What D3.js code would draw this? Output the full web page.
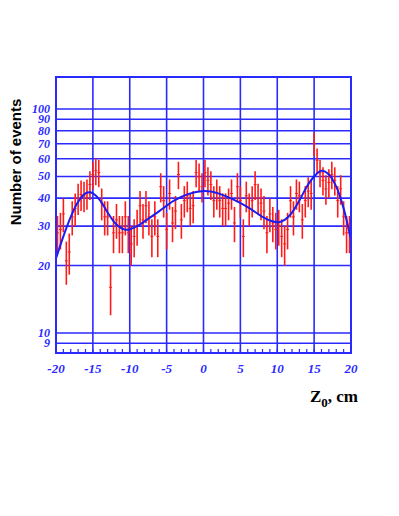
<!DOCTYPE html>
<html>
<head>
<meta charset="utf-8">
<script src="https://cdn.jsdelivr.net/npm/d3@7"></script>
<style>
  html, body { margin: 0; padding: 0; background: #fff; }
  svg { display: block; }
</style>
</head>
<body>
<svg id="chart" width="399" height="516"></svg>
<script>
// Z0 distribution: 100 bins of 0.4 cm from -20 to 20, Poisson errors,
// log y scale, smooth fit curve overlaid.

const BIN_WIDTH = 0.4;
const counts = [
    28, 29, 34, 21, 23, 33, 36, 40, 41.5, 41,
    42, 46, 51, 53, 52, 38, 33, 33, 16, 28,
    32, 28, 28, 33, 28, 25, 27, 30, 37, 32,
    37, 33, 27, 33, 27, 45, 39, 29, 42, 31,
    35, 51, 32, 39, 41, 36, 37, 52, 50, 45,
    52, 48, 46, 39, 42, 39, 36, 36, 38, 42,
    31, 45, 39, 27, 41, 36, 39, 46, 40, 38,
    35, 28, 34, 31, 29, 30, 27, 25, 29, 39,
    33, 42, 41, 32, 39, 43, 42, 70, 59, 52,
    48, 44, 47, 51, 48, 39, 44, 33, 28, 28
];

// fit curve
const fitZ = [-20, -19, -18, -17, -16, -15.5, -15, -14, -13, -12, -11, -10.3, -9, -8, -6, -4, -2, 0, 1, 2, 4, 6, 8, 9, 10.2, 11, 12, 13, 14, 15, 16, 17, 18, 19, 20];
const fitN = [21.5, 27, 33, 38.5, 42, 42.5, 42, 39, 34.5, 31, 29.2, 28.9, 30, 31.5, 35, 39, 41.8, 43, 42.8, 42, 39.5, 36.5, 33, 31.8, 31.2, 32, 34.5, 39, 45, 50, 53, 51, 45, 36, 26];

const xTicks = [-20, -15, -10, -5, 0, 5, 10, 15, 20];
const yTicks = [9, 10, 20, 30, 40, 50, 60, 70, 80, 90, 100];

const BLUE = '#2a2aff';
const RED = '#ff1a1a';

const m = { left: 56, right: 351, top: 77, bottom: 353 };
const svg = d3.select('#chart');

const x = d3.scaleLinear().domain([-20, 20]).range([m.left, m.right]);
const y = d3.scaleLog().domain([8.14, 139]).range([m.bottom, m.top]);

svg.append('clipPath').attr('id', 'plot-clip')
    .append('rect')
    .attr('x', m.left).attr('y', m.top)
    .attr('width', m.right - m.left).attr('height', m.bottom - m.top);

// grid
const grid = svg.append('g').attr('stroke', BLUE).attr('stroke-width', 1.6);
grid.selectAll('line.gx').data(xTicks.slice(1, -1)).join('line')
    .attr('x1', (d) => x(d)).attr('x2', (d) => x(d))
    .attr('y1', m.top).attr('y2', m.bottom);
grid.selectAll('line.gy').data(yTicks).join('line')
    .attr('x1', m.left).attr('x2', m.right)
    .attr('y1', (d) => y(d)).attr('y2', (d) => y(d));

// minor ticks along the bottom, 1 cm apart
svg.append('g').attr('stroke', BLUE).attr('stroke-width', 1.2)
    .selectAll('line').data(d3.range(-19, 20)).join('line')
    .attr('x1', (d) => x(d)).attr('x2', (d) => x(d))
    .attr('y1', m.bottom).attr('y2', m.bottom - 4);

// data with sqrt(N) error bars
const pts = counts.map((n, i) => ({ z: -20 + BIN_WIDTH * (i + 0.5), n }));
const data = svg.append('g').attr('clip-path', 'url(#plot-clip)').attr('stroke', RED);
data.selectAll('line.err').data(pts).join('line')
    .attr('stroke-width', 1.6)
    .attr('x1', (d) => x(d.z)).attr('x2', (d) => x(d.z))
    .attr('y1', (d) => y(d.n + Math.sqrt(d.n)))
    .attr('y2', (d) => y(Math.max(d.n - Math.sqrt(d.n), 1)));
data.selectAll('line.bin').data(pts).join('line')
    .attr('stroke-width', 1)
    .attr('x1', (d) => x(d.z - BIN_WIDTH / 2)).attr('x2', (d) => x(d.z + BIN_WIDTH / 2))
    .attr('y1', (d) => y(d.n)).attr('y2', (d) => y(d.n));

// fit curve
svg.append('path')
    .datum(fitZ.map((z, i) => [z, fitN[i]]))
    .attr('clip-path', 'url(#plot-clip)')
    .attr('fill', 'none').attr('stroke', '#1c1cf0').attr('stroke-width', 2)
    .attr('d', d3.line().curve(d3.curveCatmullRom).x((d) => x(d[0])).y((d) => y(d[1])));

// frame
svg.append('rect')
    .attr('x', m.left).attr('y', m.top)
    .attr('width', m.right - m.left).attr('height', m.bottom - m.top)
    .attr('fill', 'none').attr('stroke', BLUE).attr('stroke-width', 2);

// tick labels
const tickFont = '"Liberation Serif", "DejaVu Serif", serif';
svg.append('g').selectAll('text').data(yTicks).join('text')
    .attr('x', m.left - 6).attr('y', (d) => y(d) + 4)
    .attr('text-anchor', 'end')
    .attr('font-family', tickFont).attr('font-weight', 'bold').attr('font-style', 'italic')
    .attr('font-size', 12).attr('fill', BLUE)
    .text((d) => d);
svg.append('g').selectAll('text').data(xTicks).join('text')
    .attr('x', (d) => x(d)).attr('y', m.bottom + 20)
    .attr('text-anchor', 'middle')
    .attr('font-family', tickFont).attr('font-weight', 'bold').attr('font-style', 'italic')
    .attr('font-size', 13).attr('fill', BLUE)
    .text((d) => d);

// axis titles
svg.append('text')
    .attr('transform', 'translate(21,162) rotate(-90)')
    .attr('text-anchor', 'middle')
    .attr('font-family', '"Liberation Sans", Arial, sans-serif')
    .attr('font-weight', 'bold').attr('font-size', 15).attr('fill', '#000')
    .text('Number of events');

const xt = svg.append('text')
    .attr('x', 358).attr('y', 402)
    .attr('text-anchor', 'end')
    .attr('font-family', '"Liberation Serif", "Times New Roman", serif')
    .attr('font-weight', 'bold').attr('font-size', 17).attr('fill', '#000');
xt.append('tspan').text('Z');
xt.append('tspan').attr('font-size', 13).attr('dy', 5).text('0');
xt.append('tspan').attr('dy', -5).text(', cm');
</script>
</body>
</html>
